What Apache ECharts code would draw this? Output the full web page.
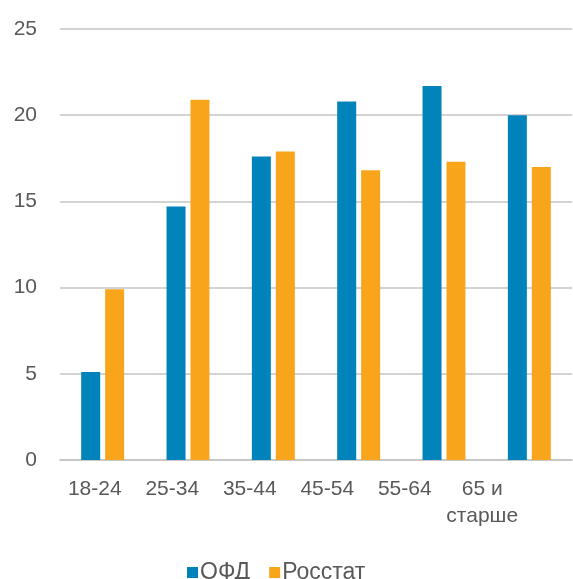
<!DOCTYPE html>
<html>
<head>
<meta charset="utf-8">
<script src="https://cdn.jsdelivr.net/npm/echarts@6/dist/echarts.min.js"></script>
<style>
  html, body { margin: 0; padding: 0; background: #fff; }
  #chart { width: 573px; height: 579px; }
</style>
</head>
<body>
<div id="chart"></div>
<script>
// данные
const categories = ['18-24', '25-34', '35-44', '45-54', '55-64', '65 и\nстарше'];
const ofdValues = [5.1, 14.7, 17.6, 20.8, 21.7, 20.0];
const rosstatValues = [9.9, 20.9, 17.9, 16.8, 17.3, 17.0];
const yTicks = { min: 0, max: 25, interval: 5 };

const labelColor = '#595959';
const gridColor = '#c4c4c4';
const fontFamily = '"Liberation Sans", Arial, sans-serif';

let chart = echarts.init(document.getElementById('chart'));

let option = {
    animation: false,
    textStyle: { fontFamily: fontFamily },
    grid: [
        // основная область с барами
        { left: 60, right: 1, top: 29, bottom: 119 },
        // подписи категорий в оригинале сжаты по ширине
        { left: 56, right: 52, top: 29, bottom: 119 }
    ],
    legend: {
        top: 556,
        left: 182,
        itemWidth: 11,
        itemHeight: 11,
        itemGap: 19,
        icon: 'rect',
        textStyle: { color: labelColor, fontSize: 23, padding: [0, 0, 0, -3] },
        data: ['ОФД', 'Росстат']
    },
    xAxis: [
        {
            type: 'category',
            gridIndex: 0,
            data: categories,
            axisLine: { show: true, lineStyle: { color: gridColor, width: 1.5 } },
            axisTick: { show: false },
            axisLabel: { show: false }
        },
        {
            type: 'category',
            gridIndex: 1,
            data: categories,
            axisLine: { show: false },
            axisTick: { show: false },
            splitLine: { show: false },
            axisLabel: {
                color: labelColor,
                fontSize: 21,
                lineHeight: 27,
                margin: 16,
                interval: 0
            }
        }
    ],
    yAxis: [
        {
            type: 'value',
            gridIndex: 0,
            min: yTicks.min,
            max: yTicks.max,
            interval: yTicks.interval,
            axisLine: { show: false },
            axisTick: { show: false },
            splitLine: { lineStyle: { color: gridColor, width: 1.5 } },
            axisLabel: { color: labelColor, fontSize: 21, margin: 23 }
        },
        {
            type: 'value',
            gridIndex: 1,
            show: false,
            min: yTicks.min,
            max: yTicks.max
        }
    ],
    series: [
        {
            name: 'ОФД',
            type: 'bar',
            xAxisIndex: 0,
            yAxisIndex: 0,
            data: ofdValues,
            barWidth: 19,
            barGap: '26%',
            itemStyle: { color: '#0083bb' }
        },
        {
            name: 'Росстат',
            type: 'bar',
            xAxisIndex: 0,
            yAxisIndex: 0,
            data: rosstatValues,
            barWidth: 19,
            barGap: '26%',
            itemStyle: { color: '#f8a51c' }
        }
    ]
};

chart.setOption(option);
</script>
</body>
</html>
